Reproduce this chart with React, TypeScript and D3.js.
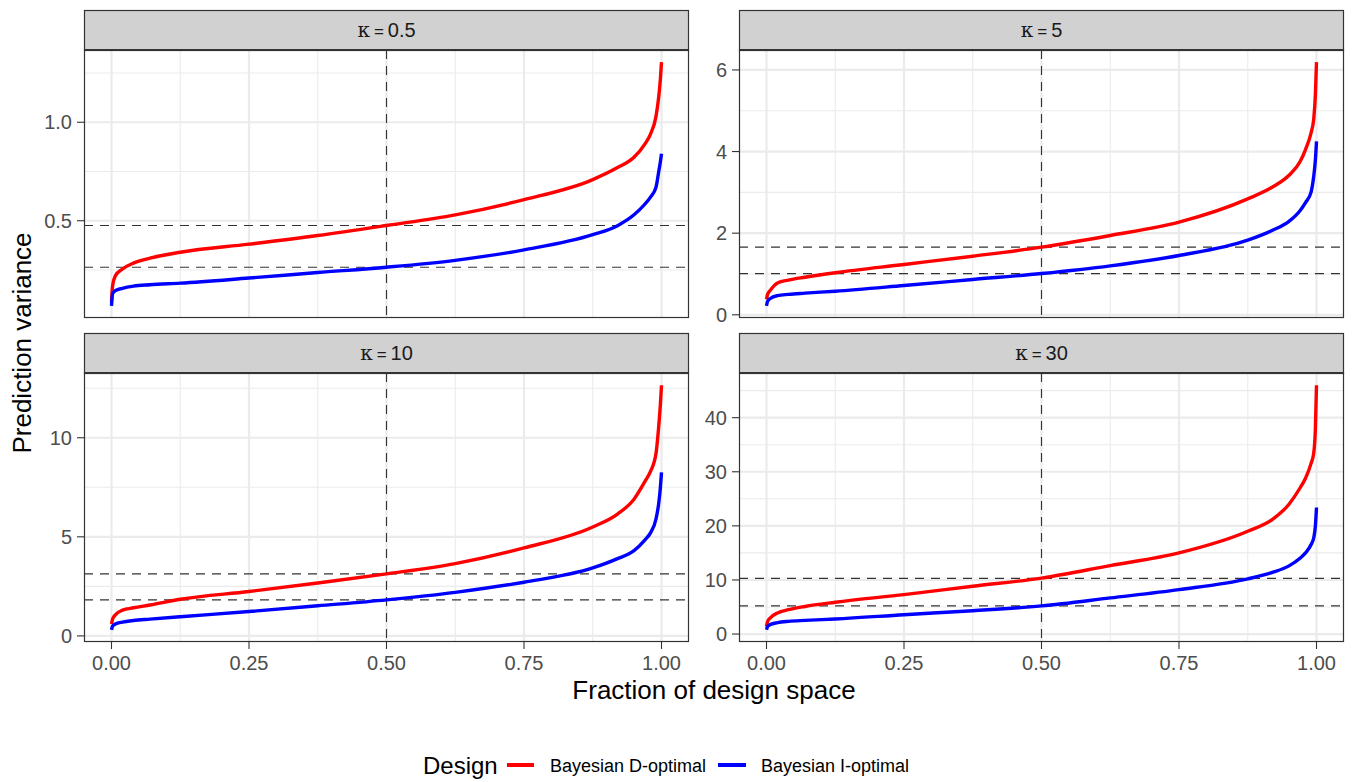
import React from "react";
import * as d3 from "d3";

// ---------- data ----------
const fractions = [0, 0.002, 0.007, 0.02, 0.04, 0.07, 0.125, 0.25, 0.375, 0.5, 0.625, 0.75, 0.875, 0.92, 0.95, 0.97, 0.98, 0.99, 0.995, 0.998, 1.0];

const kappaLabels = ["0.5", "5", "10", "30"];
const designNames = ["Bayesian D-optimal", "Bayesian I-optimal"];

const dOpt_k05 = [0.09, 0.17, 0.22, 0.255, 0.285, 0.31, 0.34, 0.381, 0.425, 0.476, 0.53, 0.607, 0.709, 0.77, 0.822, 0.89, 0.94, 1.03, 1.13, 1.22, 1.305];
const iOpt_k05 = [0.068, 0.13, 0.145, 0.157, 0.168, 0.175, 0.183, 0.209, 0.237, 0.264, 0.299, 0.352, 0.429, 0.475, 0.53, 0.585, 0.62, 0.67, 0.75, 0.8, 0.84];

const dOpt_k5 = [0.38, 0.5, 0.6, 0.78, 0.85, 0.92, 1.03, 1.233, 1.436, 1.657, 1.944, 2.27, 2.84, 3.13, 3.42, 3.75, 4.05, 4.45, 4.8, 5.4, 6.19];
const iOpt_k5 = [0.22, 0.33, 0.4, 0.47, 0.5, 0.53, 0.578, 0.718, 0.865, 1.012, 1.2, 1.453, 1.829, 2.07, 2.29, 2.55, 2.75, 3.0, 3.4, 3.8, 4.25];

const dOpt_k10 = [0.6, 0.85, 1.06, 1.3, 1.42, 1.56, 1.85, 2.24, 2.67, 3.13, 3.65, 4.44, 5.5, 6.15, 6.9, 7.8, 8.3, 9.2, 10.6, 11.7, 12.65];
const iOpt_k10 = [0.31, 0.5, 0.6, 0.7, 0.78, 0.85, 0.97, 1.23, 1.52, 1.82, 2.2, 2.71, 3.43, 3.9, 4.3, 4.85, 5.2, 5.9, 6.7, 7.5, 8.25];

const dOpt_k30 = [1.4, 2.3, 3.0, 3.9, 4.5, 5.1, 5.88, 7.29, 8.84, 10.35, 12.66, 15.0, 19.0, 21.2, 24.0, 27.0, 28.8, 31.5, 33.5, 38.0, 46.0];
const iOpt_k30 = [0.79, 1.4, 1.75, 2.1, 2.35, 2.53, 2.78, 3.57, 4.31, 5.2, 6.68, 8.21, 10.2, 11.4, 12.6, 14.0, 15.0, 16.5, 17.8, 20.0, 23.4];

// medians (dashed reference lines)
const medianD = [0.476, 1.657, 3.13, 10.3];
const medianI = [0.264, 1.01, 1.82, 5.2];

const yBreaks_k05 = [0.5, 1.0];
const yBreaks_k5 = [0, 2, 4, 6];
const yBreaks_k10 = [0, 5, 10];
const yBreaks_k30 = [0, 10, 20, 30, 40];

const xBreaks = [0, 0.25, 0.5, 0.75, 1.0];
const xLabels = ["0.00", "0.25", "0.50", "0.75", "1.00"];

// ---------- layout ----------
const W = 1357;
const H = 782;
const cols = [
  [84, 689],
  [739, 1344],
];
const rows = [
  { s0: 10, s1: 50, p1: 318 },
  { s0: 333, s1: 373, p1: 642 },
];

const RED = "#FF0000";
const BLUE = "#0000FF";
const FONT = "'Liberation Sans', Arial, Helvetica, sans-serif";

const panels = [
  { k: kappaLabels[0], d: dOpt_k05, i: iOpt_k05, breaks: yBreaks_k05, fmt: (v: number) => v.toFixed(1), col: 0, row: 0, idx: 0 },
  { k: kappaLabels[1], d: dOpt_k5, i: iOpt_k5, breaks: yBreaks_k5, fmt: (v: number) => String(v), col: 1, row: 0, idx: 1 },
  { k: kappaLabels[2], d: dOpt_k10, i: iOpt_k10, breaks: yBreaks_k10, fmt: (v: number) => String(v), col: 0, row: 1, idx: 2 },
  { k: kappaLabels[3], d: dOpt_k30, i: iOpt_k30, breaks: yBreaks_k30, fmt: (v: number) => String(v), col: 1, row: 1, idx: 3 },
];

function Panel({ p }: { p: typeof panels[number] }) {
  const [x0, x1] = cols[p.col];
  const r = rows[p.row];
  const y0 = r.s1;
  const y1 = r.p1;
  const x = d3.scaleLinear().domain([-0.05, 1.05]).range([x0, x1]);
  const all = [...p.d, ...p.i, medianD[p.idx], medianI[p.idx]];
  const [mn, mx] = d3.extent(all) as [number, number];
  const span = mx - mn;
  const y = d3.scaleLinear().domain([mn - 0.05 * span, mx + 0.05 * span]).range([y1, y0]);

  const step = p.breaks[1] - p.breaks[0];
  const minor: number[] = [];
  for (let v = p.breaks[0] - step / 2; v <= y.domain()[1]; v += step) {
    if (v >= y.domain()[0]) minor.push(v);
  }
  const xMinor = [0.125, 0.375, 0.625, 0.875];

  const line = d3
    .line<number>()
    .x((_, j) => x(fractions[j]))
    .y((v) => y(v))
    .curve(d3.curveMonotoneX);

  const cx = (x0 + x1) / 2;
  const showX = p.row === 1;

  return (
    <g>
      <rect x={x0} y={y0} width={x1 - x0} height={y1 - y0} fill="#FFFFFF" />
      {minor.map((v) => (
        <line key={"my" + v} x1={x0} x2={x1} y1={y(v)} y2={y(v)} stroke="#EBEBEB" strokeWidth={1.1} />
      ))}
      {xMinor.map((v) => (
        <line key={"mx" + v} x1={x(v)} x2={x(v)} y1={y0} y2={y1} stroke="#EBEBEB" strokeWidth={1.1} />
      ))}
      {p.breaks.map((v) => (
        <line key={"gy" + v} x1={x0} x2={x1} y1={y(v)} y2={y(v)} stroke="#EBEBEB" strokeWidth={2.2} />
      ))}
      {xBreaks.map((v) => (
        <line key={"gx" + v} x1={x(v)} x2={x(v)} y1={y0} y2={y1} stroke="#EBEBEB" strokeWidth={2.2} />
      ))}
      <line x1={x(0.5)} x2={x(0.5)} y1={y0} y2={y1} stroke="#333333" strokeWidth={1.1} strokeDasharray="9,7" />
      {[medianD[p.idx], medianI[p.idx]].map((v, j) => (
        <line key={"h" + j} x1={x0} x2={x1} y1={y(v)} y2={y(v)} stroke="#333333" strokeWidth={1.1} strokeDasharray="9,7" />
      ))}
      <path d={line(p.d) || ""} fill="none" stroke={RED} strokeWidth={3.4} strokeLinejoin="round" />
      <path d={line(p.i) || ""} fill="none" stroke={BLUE} strokeWidth={3.4} strokeLinejoin="round" />
      <rect x={x0 + 0.5} y={y0} width={x1 - x0 - 1} height={y1 - y0 - 0.5} fill="none" stroke="#333333" strokeWidth={1.2} />
      <rect x={x0 + 0.5} y={r.s0 + 0.5} width={x1 - x0 - 1} height={r.s1 - r.s0} fill="#D1D1D1" stroke="#333333" strokeWidth={1.2} />
      <line x1={x0} x2={x1} y1={r.s1} y2={r.s1} stroke="#333333" strokeWidth={2} />
      <text x={cx} y={(r.s0 + r.s1) / 2 + 7} textAnchor="middle" fontFamily={FONT} fontSize={20} fill="#1A1A1A">
        <tspan fontFamily="'DejaVu Serif', 'Liberation Serif', serif" fontSize={20}>κ</tspan>
        <tspan fontSize={17} dx={4}>=</tspan>
        <tspan dx={4}>{p.k}</tspan>
      </text>
      {p.breaks.map((v) => (
        <g key={"yt" + v}>
          <line x1={x0 - 7} x2={x0} y1={y(v)} y2={y(v)} stroke="#333333" strokeWidth={1.1} />
          <text x={x0 - 12} y={y(v) + 7} textAnchor="end" fontFamily={FONT} fontSize={20} fill="#4D4D4D">
            {p.fmt(v)}
          </text>
        </g>
      ))}
      {showX &&
        xBreaks.map((v, j) => (
          <g key={"xt" + v}>
            <line x1={x(v)} x2={x(v)} y1={y1} y2={y1 + 7} stroke="#333333" strokeWidth={1.1} />
            <text x={x(v)} y={y1 + 28} textAnchor="middle" fontFamily={FONT} fontSize={20} fill="#4D4D4D">
              {xLabels[j]}
            </text>
          </g>
        ))}
    </g>
  );
}

export default function App() {
  const legendY = 765;
  return (
    <svg
      width={W}
      height={H}
      viewBox={`0 0 ${W} ${H}`}
      style={{ position: "absolute", left: 0, top: 0, display: "block", background: "#FFFFFF" }}
    >
      <rect x={0} y={0} width={W} height={H} fill="#FFFFFF" />
      {panels.map((p) => (
        <Panel key={p.k} p={p} />
      ))}
      <text x={714} y={699} textAnchor="middle" fontFamily={FONT} fontSize={26} fill="#000000">
        Fraction of design space
      </text>
      <text
        transform={`translate(31, 343) rotate(-90)`}
        textAnchor="middle"
        fontFamily={FONT}
        fontSize={26}
        fill="#000000"
      >
        Prediction variance
      </text>
      <text x={423} y={legendY + 9} fontFamily={FONT} fontSize={24} fill="#000000">
        Design
      </text>
      <line x1={507} x2={534} y1={legendY} y2={legendY} stroke={RED} strokeWidth={4} />
      <text x={550} y={legendY + 7} fontFamily={FONT} fontSize={18} fill="#000000">
        {designNames[0]}
      </text>
      <line x1={718} x2={746} y1={legendY} y2={legendY} stroke={BLUE} strokeWidth={4} />
      <text x={761} y={legendY + 7} fontFamily={FONT} fontSize={18} fill="#000000">
        {designNames[1]}
      </text>
    </svg>
  );
}
